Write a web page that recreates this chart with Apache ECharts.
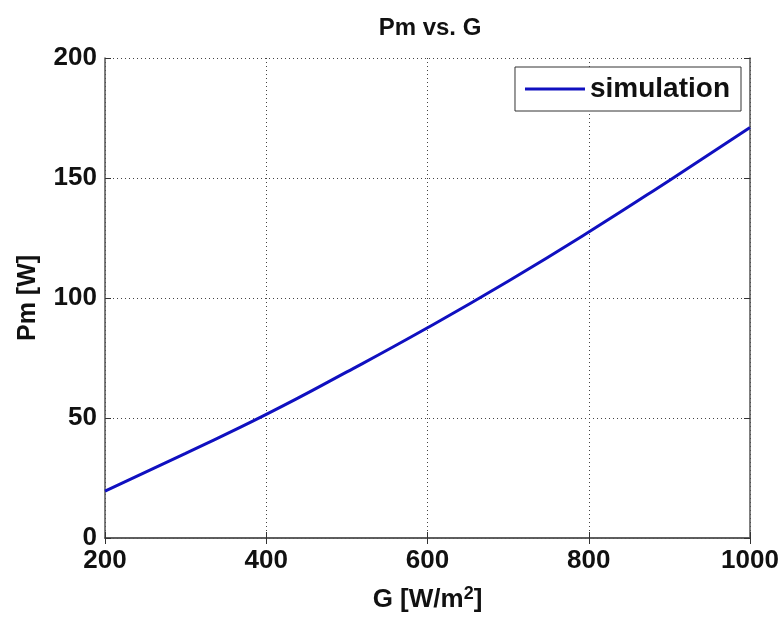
<!DOCTYPE html>
<html><head><meta charset="utf-8">
<script src="https://cdn.jsdelivr.net/npm/echarts@6/dist/echarts.min.js"></script>
<style>html,body{margin:0;padding:0;background:#fff}#c{width:783px;height:618px}</style>
</head><body><div id="c"></div>
<script>
const gValues = [200, 300, 400, 500, 600, 700, 800, 900, 1000];
const pmValues = [19.5, 35.3, 51.5, 69.2, 87.6, 107, 127.5, 149, 171];
const xTicks = [200, 400, 600, 800, 1000];
const yTicks = [0, 50, 100, 150, 200];
const FONT = 'Liberation Sans, Arial, sans-serif';
const chart = echarts.init(document.getElementById('c'));
const data = gValues.map((g, i) => [g, pmValues[i]]);
const gridLine = {show: true, lineStyle: {type: [1, 3], color: '#444', width: 1}};
const tickStyle = {show: true, inside: true, length: 6, lineStyle: {color: '#333'}};
const axisLineStyle = {show: true, lineStyle: {color: '#555', width: 1.5}};
chart.setOption({
  animation: false,
  title: {text: 'Pm vs. G', left: 425, top: 11, textAlign: 'center',
    textStyle: {fontFamily: FONT, fontWeight: 'bold', fontSize: 24, color: '#111'}},
  legend: {data: [{name: 'simulation', icon: 'rect'}], right: 42, top: 67, orient: 'vertical',
    borderColor: '#333', borderWidth: 1, backgroundColor: '#fff', padding: [8, 11, 8, 10],
    itemWidth: 60, itemHeight: 3, itemGap: 5,
    textStyle: {fontFamily: FONT, fontWeight: 'bold', fontSize: 28, color: '#111'}},
  grid: {left: 105, right: 33, top: 58, bottom: 79},
  xAxis: [{type: 'value', min: 200, max: 1000, interval: 200,
    name: 'G [W/m{sup|2}]', nameLocation: 'middle', nameGap: 47, nameMoveOverlap: false,
    nameTextStyle: {fontFamily: FONT, fontWeight: 'bold', fontSize: 26, color: '#111',
      rich: {sup: {fontFamily: FONT, fontWeight: 'bold', fontSize: 18, color: '#111', verticalAlign: 'top', padding: [0, 0, 12, 0]}}},
    axisLine: axisLineStyle, axisTick: tickStyle,
    axisLabel: {fontFamily: FONT, fontWeight: 'bold', fontSize: 26, color: '#111', margin: 10, formatter: v => String(v)},
    splitLine: gridLine},
   {type: 'value', position: 'top', min: 200, max: 1000, interval: 200,
    axisLine: axisLineStyle, axisTick: tickStyle,
    axisLabel: {show: false}, splitLine: {show: false}}],
  yAxis: [{type: 'value', min: 0, max: 200, interval: 50,
    name: 'Pm [W]', nameLocation: 'middle', nameGap: 64, nameRotate: 90, nameMoveOverlap: false,
    nameTextStyle: {fontFamily: FONT, fontWeight: 'bold', fontSize: 25, color: '#111'},
    axisLine: axisLineStyle, axisTick: tickStyle,
    axisLabel: {fontFamily: FONT, fontWeight: 'bold', fontSize: 26, color: '#111', margin: 8},
    splitLine: gridLine},
   {type: 'value', position: 'right', min: 0, max: 200, interval: 50,
    axisLine: axisLineStyle, axisTick: tickStyle,
    axisLabel: {show: false}, splitLine: {show: false}}],
  series: [{name: 'simulation', type: 'line', data: data, smooth: true, showSymbol: false,
    lineStyle: {color: '#1010c0', width: 3}, itemStyle: {color: '#1010c0'}}]
});
</script></body></html>
